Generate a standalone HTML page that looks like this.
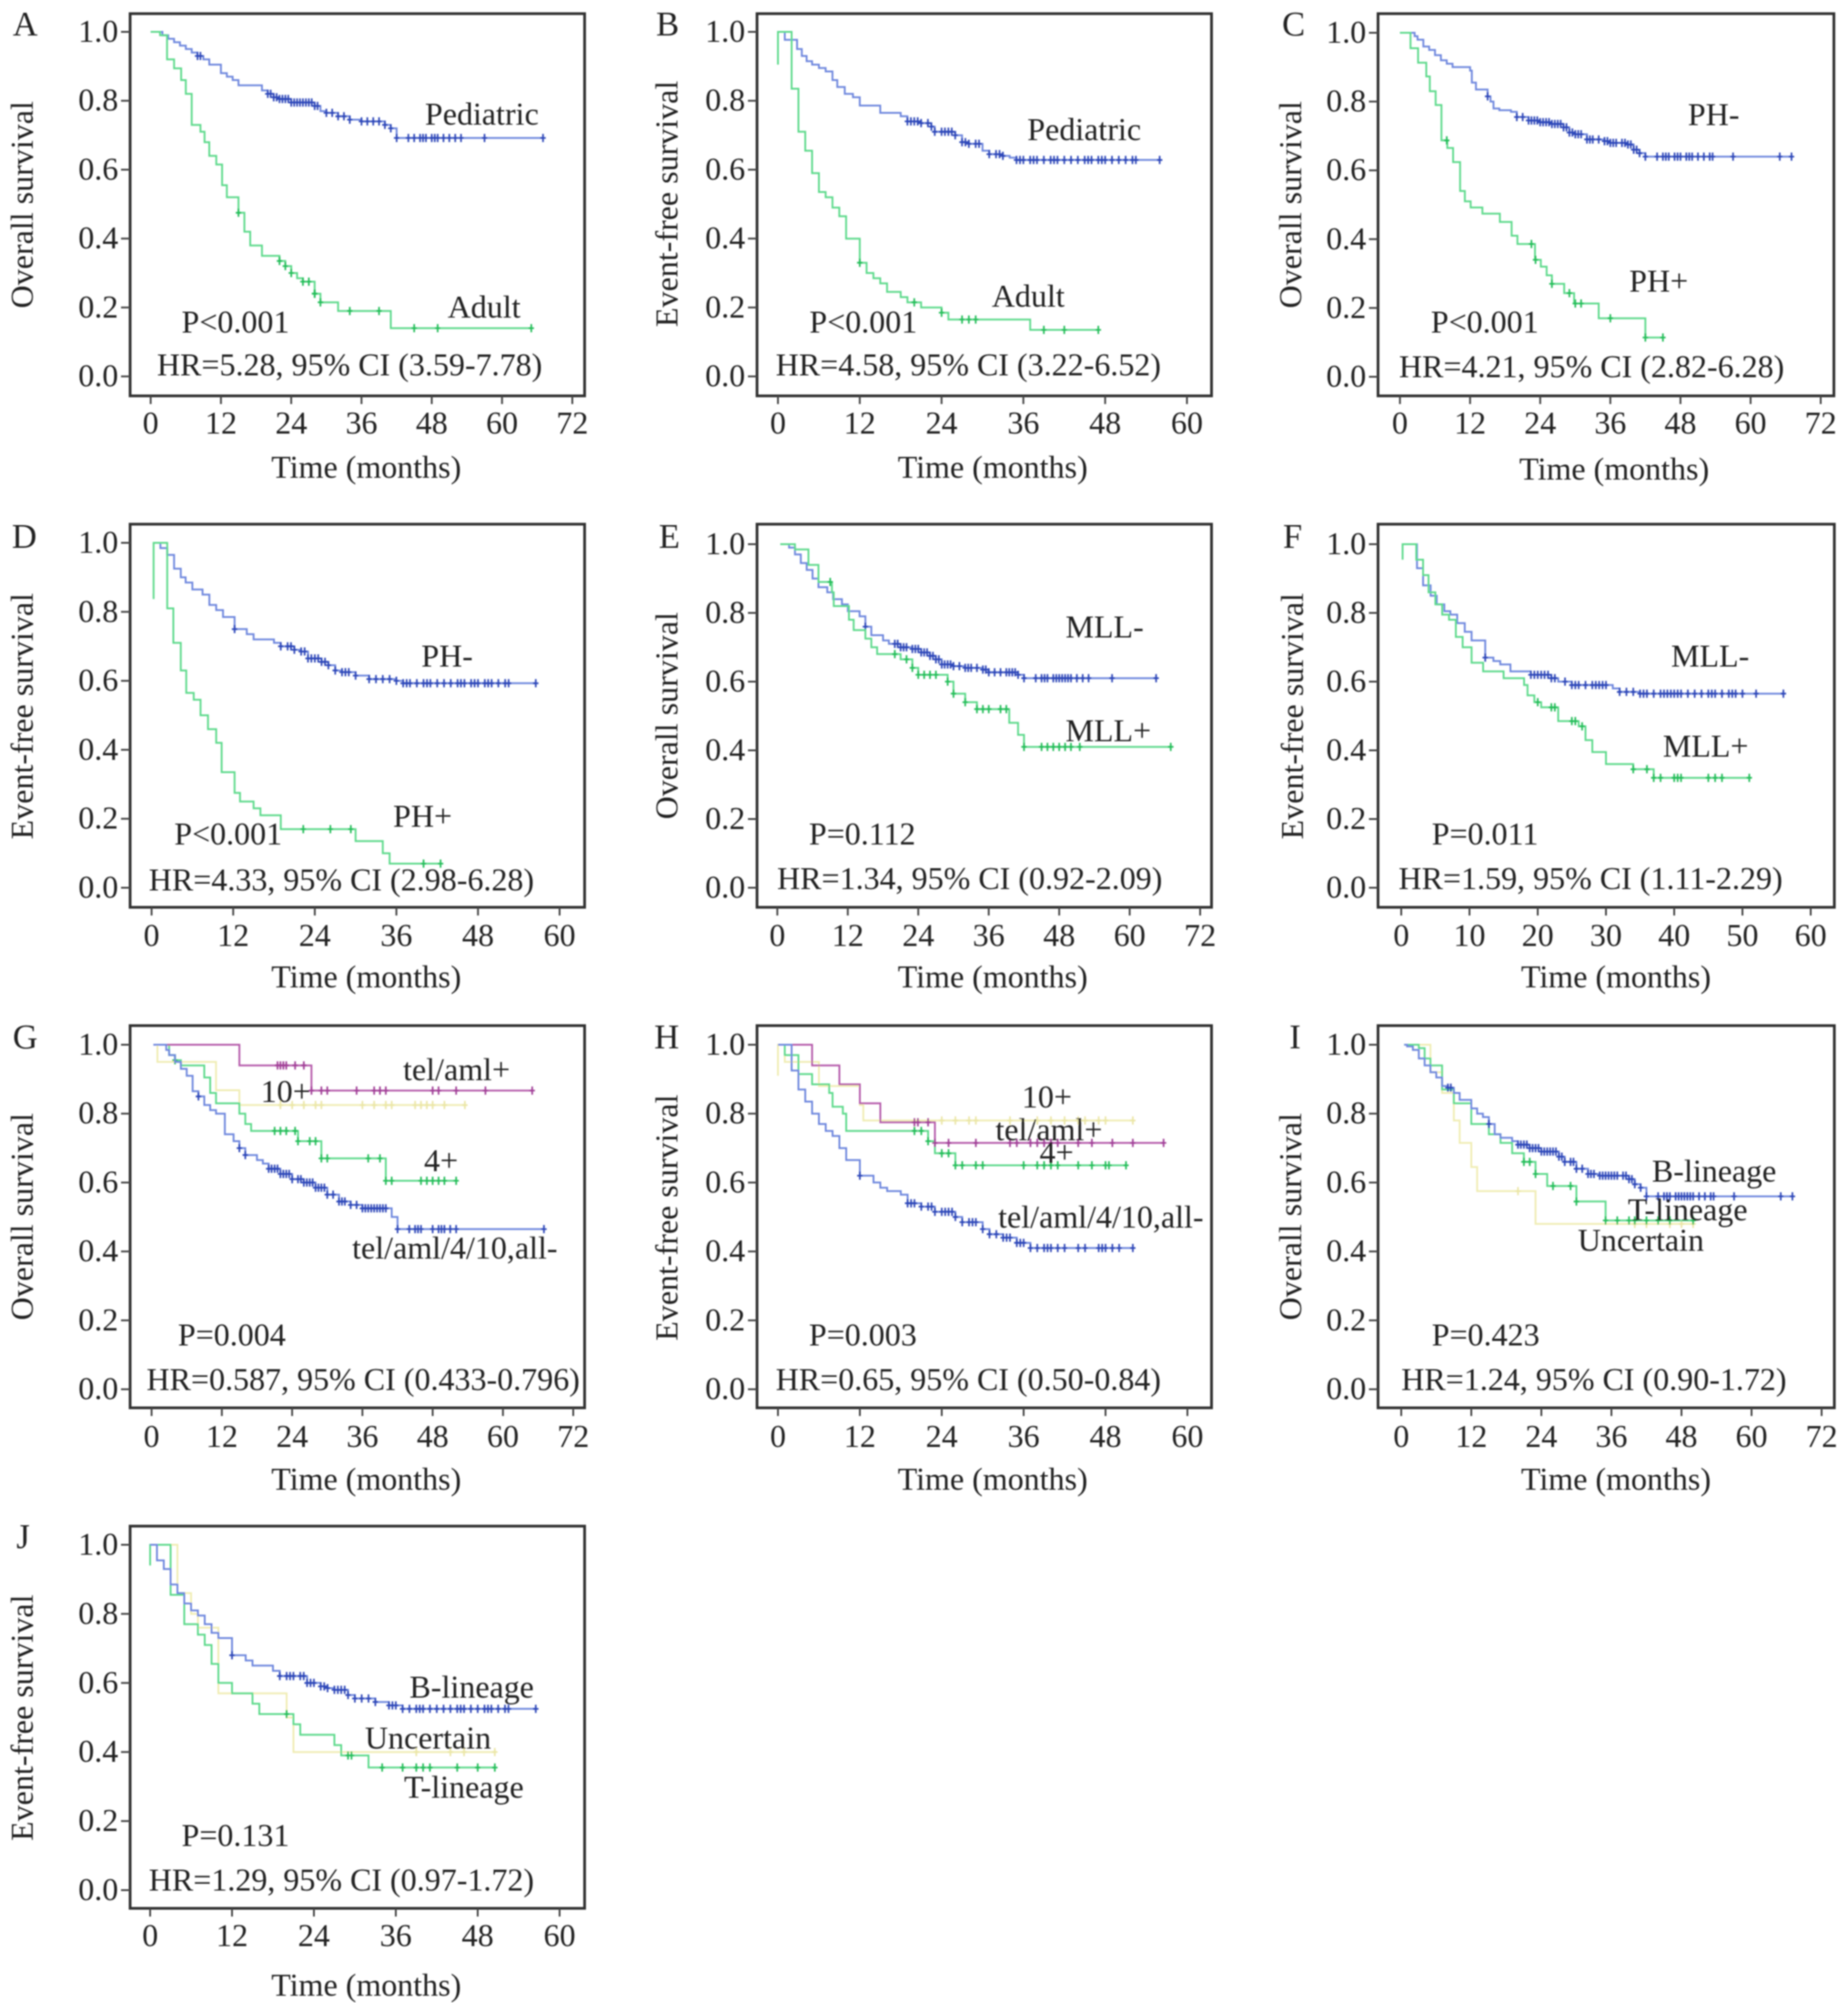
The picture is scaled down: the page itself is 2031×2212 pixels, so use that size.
<!DOCTYPE html>
<html lang="en">
<head>
<meta charset="utf-8">
<title>Kaplan-Meier survival panels A-J</title>
<style>
html,body{margin:0;padding:0;background:#fff;}
svg{display:block;}
text{font-family:"Liberation Serif",serif;font-size:35.2px;fill:#222;}
.ttl{text-anchor:middle;}
.let{font-size:38px;}
</style>
</head>
<body>
<svg id="chart" xmlns="http://www.w3.org/2000/svg" width="2031" height="2212" viewBox="0 0 2031 2212">
<defs><filter id="soft" x="0" y="0" width="100%" height="100%"><feGaussianBlur stdDeviation="0.9"/></filter></defs>
<rect x="0" y="0" width="2031" height="2212" fill="#fff"/>
<g id="root" filter="url(#soft)">
<g id="plots"></g>
<!-- A -->
<text class="let" x="14" y="39">A</text>
<text class="ttl" transform="translate(36,225) rotate(-90)">Overall survival</text>
<text class="ttl" x="402.5" y="525">Time (months)</text>
<text x="467" y="137">Pediatric</text>
<text x="492" y="349">Adult</text>
<text x="199.5" y="365.5">P&lt;0.001</text>
<text x="172.5" y="412.5">HR=5.28, 95% CI (3.59-7.78)</text>
<!-- B -->
<text class="let" x="721" y="39">B</text>
<text class="ttl" transform="translate(744.5,224) rotate(-90)">Event-free survival</text>
<text class="ttl" x="1091" y="525">Time (months)</text>
<text x="1129" y="154">Pediatric</text>
<text x="1090" y="337">Adult</text>
<text x="889.5" y="365.5">P&lt;0.001</text>
<text x="852.5" y="412.5">HR=4.58, 95% CI (3.22-6.52)</text>
<!-- C -->
<text class="let" x="1409" y="39">C</text>
<text class="ttl" transform="translate(1430,225) rotate(-90)">Overall survival</text>
<text class="ttl" x="1774" y="527">Time (months)</text>
<text x="1855" y="137.5">PH-</text>
<text x="1790.5" y="320.5">PH+</text>
<text x="1572.5" y="365.5">P&lt;0.001</text>
<text x="1537.5" y="414.5">HR=4.21, 95% CI (2.82-6.28)</text>
<!-- D -->
<text class="let" x="13" y="602">D</text>
<text class="ttl" transform="translate(36,787) rotate(-90)">Event-free survival</text>
<text class="ttl" x="402.5" y="1085">Time (months)</text>
<text x="463" y="732.5">PH-</text>
<text x="432" y="908.5">PH+</text>
<text x="191.5" y="928">P&lt;0.001</text>
<text x="163.5" y="978.5">HR=4.33, 95% CI (2.98-6.28)</text>
<!-- E -->
<text class="let" x="724" y="602">E</text>
<text class="ttl" transform="translate(744.5,786.5) rotate(-90)">Overall survival</text>
<text class="ttl" x="1091" y="1085">Time (months)</text>
<text x="1171" y="700.5">MLL-</text>
<text x="1171" y="814.5">MLL+</text>
<text x="889" y="928">P=0.112</text>
<text x="854" y="977">HR=1.34, 95% CI (0.92-2.09)</text>
<!-- F -->
<text class="let" x="1410" y="602">F</text>
<text class="ttl" transform="translate(1432,787) rotate(-90)">Event-free survival</text>
<text class="ttl" x="1776" y="1085">Time (months)</text>
<text x="1836.5" y="732.5">MLL-</text>
<text x="1827.5" y="831.5">MLL+</text>
<text x="1573.5" y="928">P=0.011</text>
<text x="1537" y="977">HR=1.59, 95% CI (1.11-2.29)</text>
<!-- G -->
<text class="let" x="14" y="1152">G</text>
<text class="ttl" transform="translate(36,1337) rotate(-90)">Overall survival</text>
<text class="ttl" x="402.5" y="1637">Time (months)</text>
<text x="443" y="1187">tel/aml+</text>
<text x="286.5" y="1211">10+</text>
<text x="466" y="1287">4+</text>
<text x="387" y="1383">tel/aml/4/10,all-</text>
<text x="195.5" y="1478.5">P=0.004</text>
<text x="161" y="1527.5">HR=0.587, 95% CI (0.433-0.796)</text>
<!-- H -->
<text class="let" x="719" y="1152">H</text>
<text class="ttl" transform="translate(744.5,1338) rotate(-90)">Event-free survival</text>
<text class="ttl" x="1091" y="1637">Time (months)</text>
<text x="1123" y="1217">10+</text>
<text x="1094" y="1253">tel/aml+</text>
<text x="1142.5" y="1278">4+</text>
<text x="1097" y="1349">tel/aml/4/10,all-</text>
<text x="889" y="1478.5">P=0.003</text>
<text x="852.5" y="1527.5">HR=0.65, 95% CI (0.50-0.84)</text>
<!-- I -->
<text class="let" x="1417" y="1152">I</text>
<text class="ttl" transform="translate(1430,1337) rotate(-90)">Overall survival</text>
<text class="ttl" x="1776" y="1637">Time (months)</text>
<text x="1815.5" y="1298.5">B-lineage</text>
<text x="1789" y="1341">T-lineage</text>
<text x="1734" y="1374.5">Uncertain</text>
<text x="1573.5" y="1478.5">P=0.423</text>
<text x="1540" y="1527.5">HR=1.24, 95% CI (0.90-1.72)</text>
<!-- J -->
<text class="let" x="18" y="1701">J</text>
<text class="ttl" transform="translate(36,1887.5) rotate(-90)">Event-free survival</text>
<text class="ttl" x="402.5" y="2193">Time (months)</text>
<text x="450" y="1865.5">B-lineage</text>
<text x="401" y="1921.5">Uncertain</text>
<text x="444" y="1975.5">T-lineage</text>
<text x="199.5" y="2028.5">P=0.131</text>
<text x="163.5" y="2077.5">HR=1.29, 95% CI (0.97-1.72)</text>
</g>
</svg>
<script>
// ---- shared tick labels ----
const yTickLabels=[0,0.2,0.4,0.6,0.8,1.0];
const xTicks72=[0,12,24,36,48,60,72];
const xTicks60=[0,12,24,36,48,60];
const xTicks10=[0,10,20,30,40,50,60];

// ---- Panel A ----
const aPedT=[0,2,3,4,5,6,7,8,9,10,12,13,14,15,19,20,21,22,24,28,29,30,32,34,36,40,41,42];
const aPedS=[1,.99,.98,.97,.96,.95,.94,.93,.92,.905,.88,.87,.86,.845,.83,.82,.81,.805,.795,.785,.77,.765,.755,.745,.74,.73,.72,.692];
const aPedEnd=67;
const aPedC=[8,8.5,20,20.5,21,21.5,22,22.5,23,23.5,24,24.5,25,25.5,26,26.5,27,27.5,28,28.5,30,31,32,33,34,36,37,38,39,40,41,42,44,45,46,46.5,47,48,48.5,49,50,51,52,53,57,67];
const aAduT=[0,1.6,2.8,4,5.2,6,7,8.5,9.2,10,11.2,12.2,13,15,16,17,19,22,23,24,25,26,28,29,32,41];
const aAduS=[1,.99,.92,.894,.86,.82,.73,.71,.68,.64,.615,.555,.52,.475,.42,.38,.35,.335,.32,.30,.285,.275,.24,.215,.19,.14];
const aAduEnd=65;
const aAduC=[15,22,23,24,26,27,28,28,29,34,39,45,49,65];

// ---- Panel B ----
const bPedT=[0,1,2.8,3.5,4.2,5,6,7,8,8.7,9.8,11,12,15,18,19,21,22.5,23,26,27,28,30,31,33,34,35];
const bPedS=[1,.977,.95,.93,.915,.905,.895,.885,.86,.84,.82,.81,.786,.765,.755,.74,.735,.725,.71,.70,.68,.675,.655,.645,.64,.635,.628];
const bPedEnd=56;
const bPedC=[19,19.5,20,20.5,21,22,22.5,23,24,24.5,25,25.5,26,27,27.5,28,29,29.5,31,32,32.5,33,35,35.5,36,37,37.5,38,39,40,40.5,41,42,43,44,45,45.5,46,47,47.5,48,49,50,51,52,52.5,56];
const bAduT=[0,0,2,3,4,5,6,7,8,9,10,12,13,14,15,16,18,19,21,24,25,37];
const bAduS=[.905,1,.835,.71,.655,.59,.535,.52,.49,.465,.40,.33,.30,.285,.27,.245,.23,.215,.20,.185,.165,.135];
const bAduEnd=47;
const bAduC=[12,20,24,27,28,29,39,42,47];

// ---- Panel C ----
const cNegT=[0,2.5,3,4,5,6,7,8,9,12,12.3,13,15,15.5,16,17,19,20,22,24,26,28,29,30,32,35,36,39,40,41,42];
const cNegS=[1,.99,.98,.96,.95,.935,.92,.91,.90,.89,.855,.835,.815,.80,.78,.775,.77,.755,.745,.74,.735,.725,.71,.705,.69,.685,.68,.675,.66,.65,.64];
const cNegEnd=67;
const cNegC=[15,20,21,22,22.5,23,23.5,24,24.5,25,25.5,26,26.5,27,27.5,28,28.5,29,29.5,30,30.5,31,32,32.5,33,34,35,35.5,36,36.5,37,38,38.5,39,39.5,40,40.5,41,42,44,45,45.5,46,47,47.5,48,49,49.5,50,51,52,53,53.5,57,65,67];
const cPosT=[0,1.8,3.1,4.5,5.1,6.1,7.1,8.1,9.1,10.3,11.1,12.1,14.1,17.1,19.1,20.1,23.1,24.1,25.1,26,28.1,29.8,34,42];
const cPosS=[1,.955,.913,.873,.83,.79,.687,.665,.624,.54,.51,.492,.474,.45,.41,.386,.34,.32,.295,.27,.243,.213,.17,.114];
const cPosEnd=45;
const cPosC=[8,22.5,23.2,26,29,30,31,36,42,45];

// ---- Panel D ----
const dNegT=[.3,1.3,2.3,3.3,4.3,5,6,7.5,8.5,9.5,10.5,12.2,14,15,18,19,21,22,23,25,26,27,28,30,32,36,37];
const dNegS=[1,.985,.965,.925,.90,.885,.865,.85,.82,.805,.785,.75,.735,.72,.71,.70,.69,.685,.665,.655,.645,.63,.625,.615,.605,.60,.593];
const dNegEnd=56.5;
const dNegC=[12.2,19,20,20.5,21,22,22.5,23,23.5,24,24.5,25,25.5,26,27,28,28.5,29,30,32,33,34,35,36,37,37.5,38,39,40,40.5,41,42,43,44,45,45.5,46,47,47.5,48,49,49.5,50,51,52,52.5,56.5];
const dPosT=[.3,.3,2.3,3.2,4.3,5.1,6.2,7.2,8.3,9.5,10.3,12.2,13,15,16,19,30,34,35];
const dPosS=[.837,1,.81,.71,.63,.565,.545,.50,.46,.42,.335,.275,.25,.23,.21,.17,.135,.10,.07];
const dPosEnd=42.5;
const dPosC=[22.3,26.3,29.3,40,42.5];

// ---- Panel E ----
const eNegT=[.5,2,3,4,5,6,7,8.5,9.5,11,12,14,15,16,18,19,21,23,24.5,26,27,28,30,32,35,36,41,42];
const eNegS=[1,.99,.97,.945,.925,.90,.875,.86,.84,.825,.805,.79,.76,.735,.72,.71,.70,.695,.685,.675,.665,.65,.645,.64,.635,.627,.62,.61];
const eNegEnd=64.5;
const eNegC=[15,20,20.5,21,21.5,22,23,23.5,24,24.5,25,25.5,26,26.5,27,27.5,28,28.5,29,29.5,30,31,32,32.5,33,34,35,35.5,36,37,38,39,39.5,40,40.5,41,42,44,45,45.5,46,47,47.5,48,48.5,49,49.5,50,51,52,53,57,64.5];
const ePosT=[.5,3,5.3,7,9.3,9.6,12.2,13,15,16,17,21,23,24,29,30,32,34,39.5,41,42];
const ePosS=[1,.985,.94,.89,.86,.82,.78,.75,.725,.70,.68,.665,.64,.62,.60,.565,.54,.52,.48,.445,.41];
const ePosEnd=67;
const ePosC=[9,20,22,23,24,25,26,27,29,30,32,34,35,36,38,39,42,45,46,47,48,49,50,51.5,67];

// ---- Panel F ----
const fNegT=[.2,.2,2.3,3.2,4.3,5.2,6.3,7.2,8.2,9.3,10.3,12.3,13.5,14.5,16,19,22,23,25,31,32,35];
const fNegS=[.955,1,.93,.88,.85,.825,.805,.795,.77,.745,.72,.67,.66,.65,.63,.62,.61,.60,.59,.58,.57,.565];
const fNegEnd=56;
const fNegC=[12.3,19,19.5,20,20.5,21,21.5,22,22.5,24,25,25.5,26,27,28,28.5,29,29.5,30,32,33,34,35,35.5,36,37,38,38.5,39,39.5,40,40.5,41,42,43,44,45,45.5,46,47,48,48.5,49,50,52,56];
const fPosT=[.2,.2,2.2,3.2,4,5,6,7,8,9,10.3,12,15,18,18.5,19.5,20.5,23,26,27,28,30,34,37];
const fPosS=[.955,1,.955,.91,.86,.825,.795,.78,.73,.70,.655,.63,.61,.59,.56,.54,.525,.485,.47,.43,.395,.36,.345,.32];
const fPosEnd=51;
const fPosC=[20,22,22.5,25,25.5,26.5,34,36,37,38,40,40.5,41,45,46,47,51];

// ---- Panel G ----
const gTelT=[.3,15,27.3];
const gTelS=[1,.94,.867];
const gTelEnd=65;
const gTelC=[21.5,22,22.5,23,24.5,26,27.3,29,30,35,38,39,40,48,49,52,57,65];
const g10T=[.3,1,11,15];
const g10S=[1,.95,.868,.825];
const g10End=53.5;
const g10C=[22,24,26,28,29,36,38,40,41,45,46,47,48,50,53.5];
const g4T=[.3,3,4,5,9,10,11,15,16,17,25,29,40];
const g4S=[1,.97,.955,.94,.905,.86,.83,.80,.77,.75,.72,.67,.605];
const g4End=52;
const g4C=[4,21,22,23,24.5,25,27,28,29,30,37,39,40,41,46,47,48,49,50,52];
const gAllT=[.3,2.5,3,4,5,6,7,8,9,10,11,12.5,14,15,16,18,19,20,22,24,26,28,30,32,34,36,41,42];
const gAllS=[1,.985,.97,.95,.93,.91,.865,.85,.825,.81,.80,.74,.72,.70,.68,.665,.655,.64,.625,.61,.60,.585,.565,.545,.535,.525,.50,.465];
const gAllEnd=67;
const gAllC=[8,15,16,20,20.5,21,21.5,22,22.5,23,23.5,24,25,25.5,26,26.5,27,27.5,28,28.5,29,29.5,30,31,32,32.5,33,34,35,36,36.5,37,37.5,38,38.5,39,39.5,40,42,44,45,45.5,46,48,49,49.5,50,51,52,67];

// ---- Panel H ----
const hTelT=[0,5,9,12,15,23];
const hTelS=[1,.94,.885,.83,.775,.715];
const hTelEnd=56.5;
const hTelC=[20,20.5,22,23,25,29,34,35,37,38,39,40,41,44,46,49,52,56.5];
const h10T=[0,0,1,6,12,12.5];
const h10S=[.91,1,.95,.88,.825,.78];
const h10End=52;
const h10C=[24,26,28,29,34,38,40,42,44,45,47,48,52];
const h4T=[0,1,3,5,7.5,8,9.5,10,22,23,26];
const h4S=[1,.97,.915,.885,.86,.82,.80,.75,.72,.685,.65];
const h4End=51;
const h4C=[20,21,22,24,25,26,27,29,30,36,38,39,40,41,44,46,48,48.5,51];
const hAllT=[0,2,3,4,5,6,7,8,9,10,12,14,15,16,18,19,21,23,26,27,30,31,33,35,37];
const hAllS=[1,.925,.87,.835,.80,.77,.75,.735,.70,.665,.62,.60,.585,.575,.565,.54,.53,.515,.50,.485,.465,.45,.44,.425,.41];
const hAllEnd=52;
const hAllC=[12,19,19.5,20,21,22,22.5,23,24,24.5,25,25.5,26,27,28,28.5,29,30,31,32,33,33.5,34,35,35.5,36,37,38,39,39.5,40,41,42,44,45,47,47.5,48,49,50,52];

// ---- Panel I ----
const iBT=[.5,1,2,3,4,5,6,7,8,9,10,12,13,14,15,16,17,19,20,22,24,27,28,30,32,34,39,40,41,42];
const iBS=[1,.995,.985,.96,.94,.92,.905,.88,.875,.86,.84,.815,.80,.79,.77,.74,.73,.72,.71,.70,.69,.675,.66,.64,.625,.62,.61,.595,.585,.56];
const iBEnd=67;
const iBC=[8,8.5,15,20,20.5,21,21.5,22,22.5,23,23.5,24,24.5,25,25.5,26,26.5,27,27.5,28,29,29.5,30,31,32,32.5,33,34,34.5,35,35.5,36,36.5,37,38,38.5,39,39.5,40,41,42,44,45,45.5,46,47,47.5,48,48.5,49,49.5,50,51,52,53,53.5,57,65,67];
const iTT=[.5,3,4,5,7,9,12,15,17,19,21,23,25,30,35];
const iTS=[1,.99,.96,.94,.87,.83,.77,.74,.715,.685,.66,.625,.59,.545,.49];
const iTEnd=50;
const iTC=[21,22,23,26,29,30,35,37,39,40,42,44,46,50];
const iUT=[.5,5,7,9,10,12,13,23];
const iUS=[1,.92,.86,.78,.715,.645,.575,.48];
const iUEnd=50;
const iUC=[20,40,42,46,48,50];

// ---- Panel J ----
const jBT=[0,1,2,3,4,5,6,7,8,9,10,12,14,15,18,19,23,25,26,27,29,30,33,35,37];
const jBS=[1,.955,.93,.885,.86,.83,.81,.795,.77,.745,.73,.68,.665,.65,.635,.62,.60,.59,.585,.58,.565,.555,.545,.535,.525];
const jBEnd=56.5;
const jBC=[12,19,20,20.5,21,22,22.5,23,23.5,24,25,25.5,26,27,27.5,28,28.5,29,30,31,32,33,35,35.5,36,37,38,39,39.5,40,41,42,43,44,45,45.5,46,47,48,49,49.5,50,51,52,52.5,56.5];
const jTT=[0,0,3,5,5,7,8,9,10,12,15,16,21,22,27,28,32];
const jTS=[.94,1,.855,.82,.77,.74,.71,.655,.60,.57,.54,.51,.48,.45,.42,.39,.355];
const jTEnd=50.5;
const jTC=[20,29,29.5,34,37,39,40,41,45,48,50.5];
const jUT=[0,4,6,7,10,20,21];
const jUS=[1,.86,.80,.76,.57,.50,.40];
const jUEnd=50.5;
const jUC=[39,44,46,50.5];

const COL={blue:['#6f88de','#2a45b8'],green:['#5fda8c','#22bd58'],yellow:['#f0edb4','#ebe6a6'],purple:['#b65bab','#a03c96']};
const NS='http://www.w3.org/2000/svg';
const plots=document.getElementById('plots');

function mk(tag,parent,attrs){
  const el=document.createElementNS(NS,tag);
  for(const k in attrs) el.setAttribute(k,attrs[k]);
  parent.appendChild(el);
  return el;
}

function drawCurve(g,name,color,T,S,end,C,xs,ys){
  let d='M'+xs(T[0]).toFixed(1)+' '+ys(S[0]).toFixed(1);
  for(let i=1;i<T.length;i++){
    d+='H'+xs(T[i]).toFixed(1)+'V'+ys(S[i]).toFixed(1);
  }
  d+='H'+xs(end).toFixed(1);
  const p=mk('path',g,{d:d,fill:'none',stroke:COL[color][0],'stroke-width':2});
  
  
  C.forEach(function(t){
    let s=S[0];
    for(let i=0;i<T.length;i++){ if(T[i]<=t) s=S[i]; }
    const cx=xs(t),cy=ys(s);
    const m=mk('path',g,{d:'M'+cx.toFixed(1)+' '+(cy-4.5).toFixed(1)+'V'+(cy+4.5).toFixed(1)+'M'+(cx-3).toFixed(1)+' '+cy.toFixed(1)+'H'+(cx+3).toFixed(1),fill:'none',stroke:COL[color][1],'stroke-width':1.8});
    
    
  });
}

function panel(id,f,ax,ticks,series){
  const g=mk('g',plots,{});
  
  
  const xMax=ticks[ticks.length-1];
  const xs=function(v){return ax.x0+(ax.x1-ax.x0)*v/xMax;};
  const ys=function(v){return ax.y0+(ax.y1-ax.y0)*v;};
  const frame=mk('rect',g,{x:f[0],y:f[1],width:f[2]-f[0],height:f[3]-f[1],fill:'none',stroke:'#333','stroke-width':3});
  
  
  yTickLabels.forEach(function(v){
    const t=mk('line',g,{x1:f[0]-10,x2:f[0],y1:ys(v),y2:ys(v),stroke:'#444','stroke-width':2});
    
    
    const l=mk('text',g,{x:f[0]-13,y:ys(v)+11,'text-anchor':'end'});
    
    
    l.textContent=v.toFixed(1);
  });
  ticks.forEach(function(v){
    const t=mk('line',g,{x1:xs(v),x2:xs(v),y1:f[3],y2:f[3]+9,stroke:'#444','stroke-width':2});
    
    
    const l=mk('text',g,{x:xs(v),y:f[3]+ax.lab,'text-anchor':'middle'});
    
    
    l.textContent=String(v);
  });
  series.forEach(function(s){drawCurve(g,s[0],s[1],s[2],s[3],s[4],s[5],xs,ys);});
}

panel('a',[143,15,642.5,435],{x0:165.6,x1:629,y0:413.6,y1:35,lab:41.5},xTicks72,[
 ['pediatric','blue',aPedT,aPedS,aPedEnd,aPedC],['adult','green',aAduT,aAduS,aAduEnd,aAduC]]);
panel('b',[832,15,1331.5,435],{x0:855,x1:1304.5,y0:413.6,y1:35,lab:41.5},xTicks60,[
 ['pediatric','blue',bPedT,bPedS,bPedEnd,bPedC],['adult','green',bAduT,bAduS,bAduEnd,bAduC]]);
panel('c',[1514.5,15,2015.5,435],{x0:1538.6,x1:2001,y0:414,y1:36,lab:41.5},xTicks72,[
 ['ph-negative','blue',cNegT,cNegS,cNegEnd,cNegC],['ph-positive','green',cPosT,cPosS,cPosEnd,cPosC]]);
panel('d',[143,576,642.5,997],{x0:166.6,x1:615,y0:975.5,y1:596.5,lab:42.5},xTicks60,[
 ['ph-negative','blue',dNegT,dNegS,dNegEnd,dNegC],['ph-positive','green',dPosT,dPosS,dPosEnd,dPosC]]);
panel('e',[832,576,1331.5,997],{x0:854.3,x1:1319,y0:975.5,y1:598,lab:42.5},xTicks72,[
 ['mll-negative','blue',eNegT,eNegS,eNegEnd,eNegC],['mll-positive','green',ePosT,ePosS,ePosEnd,ePosC]]);
panel('f',[1514.5,576,2016,997],{x0:1540,x1:1990,y0:975.5,y1:598,lab:42.5},xTicks10,[
 ['mll-negative','blue',fNegT,fNegS,fNegEnd,fNegC],['mll-positive','green',fPosT,fPosS,fPosEnd,fPosC]]);
panel('g',[143,1127,642.5,1547],{x0:166.6,x1:630,y0:1526.6,y1:1148,lab:43},xTicks72,[
 ['ten-positive','yellow',g10T,g10S,g10End,g10C],['four-positive','green',g4T,g4S,g4End,g4C],['tel-aml-positive','purple',gTelT,gTelS,gTelEnd,gTelC],['all-negative','blue',gAllT,gAllS,gAllEnd,gAllC]]);
panel('h',[832,1127,1331.5,1547],{x0:855,x1:1305,y0:1526.6,y1:1148,lab:43},xTicks60,[
 ['ten-positive','yellow',h10T,h10S,h10End,h10C],['four-positive','green',h4T,h4S,h4End,h4C],['tel-aml-positive','purple',hTelT,hTelS,hTelEnd,hTelC],['all-negative','blue',hAllT,hAllS,hAllEnd,hAllC]]);
panel('i',[1514.5,1127,2016,1547],{x0:1540,x1:2002,y0:1526.6,y1:1148,lab:43},xTicks72,[
 ['uncertain','yellow',iUT,iUS,iUEnd,iUC],['t-lineage','green',iTT,iTS,iTEnd,iTC],['b-lineage','blue',iBT,iBS,iBEnd,iBC]]);
panel('j',[143,1677,642.5,2097],{x0:165,x1:615,y0:2077,y1:1697.5,lab:41.5},xTicks60,[
 ['uncertain','yellow',jUT,jUS,jUEnd,jUC],['t-lineage','green',jTT,jTS,jTEnd,jTC],['b-lineage','blue',jBT,jBS,jBEnd,jBC]]);
</script>
</body>
</html>
